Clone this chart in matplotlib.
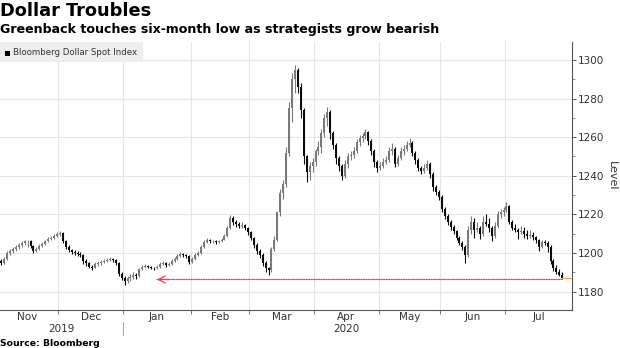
import numpy as np
import pandas as pd
import matplotlib
matplotlib.use("Agg")
import matplotlib.pyplot as plt
from matplotlib import transforms

# ---------------- data (Bloomberg Dollar Spot Index, daily) ----------------
start_date = "2019-11-01"
opens = [1197,1196,1195,1197,1200,1201,1202,1203,1204,1205,1206,1206,1203.5,1201,1202,1203.5,1204.5,1206,1207.5,1208,
         1209,1210,1210.5,1206,1203,1201.5,1200.5,1200,1199.5,1199,1196,1195,1193,1192.5,1194.5,1195,1195.5,1196,1196.5,1197,
         1196.5,1195,1189,1187,1185.5,1187,1187.5,1188.5,1188,1191.5,1193,1193.5,1193,1192.5,1192,1193,1194.5,1195,1194,1194.5,
         1196,1197,1198.5,1199.5,1199,1198.5,1195.5,1197,1199,1200,1203,1205.5,1207,1206,1206,1205.5,1206,1207,1209,1213,
         1218,1216,1215,1214,1214.5,1213,1211,1208,1204,1201,1199,1195,1192,1191,1202,1207,1221,1231,1236,1252,
         1275,1290,1295,1286,1274,1250,1242,1245,1247,1253,1255,1262,1270,1273,1262,1256,1249,1245,1240,1246,
         1250,1251,1253,1257.5,1259.5,1260.5,1262.5,1258,1253,1247,1244,1245,1247,1248,1253,1254,1246,1249,1253,1254,
         1256,1257,1252,1248,1244,1242.5,1244,1246,1241,1234,1231.5,1229,1223,1219,1216,1213.5,1211.5,1208,1205,1203,
         1199,1212,1216,1212,1213,1210,1216,1215,1213,1209,1214,1220,1221,1222.5,1224.5,1216,1213,1212,1211,1211.5,
         1210,1209,1209.5,1208.5,1207,1203,1205.5,1205,1203,1196,1192,1190,1188.5]
highs = [1198,1197,1198,1201,1202,1203,1204,1205,1206,1207,1207,1206.5,1204,1203,1204.5,1205.5,1207,1208.5,1209,1210,
         1211,1211.5,1211,1206.5,1204,1202,1201.5,1201,1200.5,1199.5,1197,1195.5,1194,1195.5,1196,1196.5,1197,1197.5,1198,1197.5,
         1197,1195.5,1190,1188,1188,1189,1190,1189.5,1192.5,1194,1194.5,1194,1193.5,1193,1194,1195.5,1196,1195.5,1195.5,1197,
         1198,1199.5,1200.5,1200,1199.5,1199,1198,1200,1201,1204,1206.5,1208,1207.5,1207,1206.5,1207,1208,1210,1214,1219.5,
         1219,1217,1216,1216,1215,1213.5,1211.5,1208.5,1205,1202,1200,1196,1193,1203,1209,1222,1233,1238,1255,1278,
         1293,1297.5,1296,1288,1275,1251,1247,1249,1254,1258,1264,1272,1275.5,1274,1263,1257,1250,1246,1248,1252,
         1253,1255,1259,1261,1262,1264.5,1263,1259,1254,1248,1247,1249,1250,1255,1257,1255,1251,1255,1256,1258,
         1259.5,1258,1253,1249,1245,1246,1248,1247,1242,1235,1232.5,1230,1224,1220,1217,1214.5,1212,1209,1206,1204,
         1214,1219,1218,1216,1214,1219,1220,1218,1214,1216,1222,1223,1224,1226.5,1225,1217,1215,1213,1214,1213.5,
         1212,1212,1211,1209,1207.5,1206.5,1206.5,1206,1204,1197,1194,1191.5,1190]
lows = [1194.5,1194,1194.5,1196.5,1199,1200,1201,1202,1203,1204,1203,1202.5,1200,1200.5,1201.5,1203,1204,1205.5,1206.5,1207.5,
        1208.5,1209,1205,1202,1200.5,1199.5,1199,1198.5,1198,1194.5,1193.5,1192,1191,1192,1193.5,1194,1195,1195.5,1196,1195.5,
        1194,1188,1186,1183.5,1184.5,1185.5,1186.5,1186.5,1187.5,1191,1192.5,1192,1191.5,1191,1191.5,1192.5,1194,1193,1193.5,1194,
        1195.5,1196.5,1198,1198,1197.5,1194.5,1195,1196.5,1198.5,1199.5,1202.5,1205,1205,1205,1204.5,1205,1205.5,1206.5,1208.5,1212.5,
        1214.5,1213.5,1213,1213,1212,1209.5,1206.5,1202.5,1199.5,1197.5,1193.5,1190,1188.5,1190,1201,1206,1219,1228,1234,1250,
        1268,1283,1283,1270,1246,1237,1238,1242,1245,1251,1252,1260,1266,1259,1254,1246,1242.5,1238,1239,1244,
        1248,1249,1252,1255.5,1257.5,1259,1256,1251,1244.5,1242,1243,1244,1246,1247,1251,1244.5,1245,1248,1251,1253,
        1255,1250,1246,1242.5,1241,1241.5,1243,1239,1232,1230,1227.5,1221,1217.5,1214.5,1212,1210,1206.5,1204,1201.5,1195,
        1198,1210,1208,1211,1207.5,1209,1214,1211,1206,1208,1213,1218,1219,1221,1215,1212,1211,1207.5,1210,1208,
        1207.5,1208,1206.5,1205,1201,1202.5,1204,1200.5,1194.5,1190.5,1189,1188,1186.5]
closes = [1196,1195,1197,1200,1201,1202,1203,1204,1205,1206,1206,1203.5,1201,1202,1203.5,1204.5,1206,1207.5,1208,1209,
          1210,1210.5,1206,1203,1201.5,1200.5,1200,1199.5,1199,1196,1195,1193,1192.5,1194.5,1195,1195.5,1196,1196.5,1197,1196.5,
          1195,1189,1187,1185.5,1187,1187.5,1188.5,1188,1191.5,1193,1193.5,1193,1192.5,1192,1193,1194.5,1195,1194,1194.5,1196,
          1197,1198.5,1199.5,1199,1198.5,1195.5,1197,1199,1200,1203,1205.5,1207,1206,1206,1205.5,1206,1207,1209,1213,1218,
          1216,1215,1214,1214.5,1213,1211,1208,1204,1201,1199,1195,1192,1191,1202,1207,1221,1231,1236,1252,1275,
          1290,1295,1286,1274,1250,1242,1245,1247,1253,1255,1262,1270,1273,1262,1256,1249,1245,1240,1246,1250,
          1251,1253,1257.5,1259.5,1260.5,1262.5,1258,1253,1247,1244,1245,1247,1248,1253,1254,1246,1249,1253,1254,1256,
          1257,1252,1248,1244,1242.5,1244,1246,1241,1234,1231.5,1229,1223,1219,1216,1213.5,1211.5,1208,1205,1203,1199,
          1212,1216,1212,1213,1210,1216,1215,1213,1209,1214,1220,1221,1222.5,1224.5,1216,1213,1212,1211,1211.5,1210,
          1209,1209.5,1208.5,1207,1203,1205.5,1205,1203,1196,1192,1190,1188.5,1187]
arrow_level = 1186.3
arrow_back_to = "2020-01-16"
month_labels = ["Nov", "Dec", "Jan", "Feb", "Mar", "Apr", "May", "Jun", "Jul"]
year_labels = ["2019", "2020"]
y_ticks = [1180, 1200, 1220, 1240, 1260, 1280, 1300]

# ---------------- figure ----------------
W, H = 620, 348
fig = plt.figure(figsize=(W / 100, H / 100), dpi=100)
ax_left, ax_right, ax_top, ax_bot = 0, 572, 42, 310
ax = fig.add_axes([ax_left / W, 1 - ax_bot / H, (ax_right - ax_left) / W, (ax_bot - ax_top) / H])

n = len(closes)
o = np.array(opens); c = np.array(closes); hi = np.array(highs); lo = np.array(lows)
xs = np.arange(n)
up = c >= o
cols = np.where(up, "#7a7a7a", "#0a0a0a")

ax.vlines(xs, lo, hi, colors=cols, lw=0.8, zorder=3)
body_bot = np.minimum(o, c)
body_h = np.maximum(np.abs(c - o), 0.4)
ax.bar(xs, body_h, bottom=body_bot, width=0.68, color=cols, edgecolor="none", zorder=4)

# calendar of business days for the whole axis span
cal = pd.bdate_range(start_date, "2020-07-31")
months = cal.to_period("M")
firsts = [i for i in range(len(cal)) if i == 0 or months[i] != months[i - 1]]
bounds = [f - 0.5 for f in firsts] + [len(cal) - 0.5]

ax.set_xlim(0.6, bounds[-1] - 0.2)
ax.set_ylim(1170.5, 1309.3)

# grid
for b in bounds[1:-1]:
    ax.axvline(b, color="#e6e6e6", lw=0.8, zorder=0)
for yt in y_ticks:
    ax.axhline(yt, color="#e6e6e6", lw=0.8, zorder=0)

# spines
for s in ["top", "left"]:
    ax.spines[s].set_visible(False)
ax.spines["bottom"].set_color("#555555")
ax.spines["right"].set_color("#555555")
ax.spines["bottom"].set_linewidth(0.8)
ax.spines["right"].set_linewidth(0.8)

# y axis on right
ax.yaxis.tick_right()
ax.set_yticks(y_ticks)
ax.set_yticklabels([str(v) for v in y_ticks], fontsize=7.5, color="#333333")
ax.set_yticks(np.arange(1180, 1310, 10), minor=True)
ax.tick_params(axis="y", which="major", length=3, width=0.7, color="#555555", pad=1.5)
ax.tick_params(axis="y", which="minor", length=2, width=0.6, color="#777777")
ax.yaxis.set_label_position("right")
ax.set_ylabel("Level", rotation=270, fontsize=8, color="#333333", labelpad=9)

# x axis: ticks at month boundaries, labels centered
ax.set_xticks(bounds[1:-1])
ax.set_xticklabels([])
ax.tick_params(axis="x", which="major", length=3, width=0.7, color="#777777")
trans = transforms.blended_transform_factory(ax.transData, fig.transFigure)
for k, lab in enumerate(month_labels):
    xm = (bounds[k] + bounds[k + 1]) / 2
    ax.text(xm, 1 - 317 / H, lab, transform=trans, ha="center", va="center", fontsize=7.5, color="#333333")
jan_idx = bounds[2]
ax.text(21.5, 1 - 328.5 / H, year_labels[0], transform=trans, ha="center", va="center", fontsize=7.5, color="#333333")
ax.text(118.5, 1 - 328.5 / H, year_labels[1], transform=trans, ha="center", va="center", fontsize=7.5, color="#333333")
ax.plot([jan_idx, jan_idx], [1 - 322 / H, 1 - 335 / H], transform=trans, color="#aaaaaa", lw=0.8, clip_on=False)

# arrow back to six-month low level
back_x = cal.get_loc(pd.Timestamp(arrow_back_to))
ax.annotate("", xy=(back_x, arrow_level), xytext=(n - 1, arrow_level),
            arrowprops=dict(arrowstyle="-", color="#e8414f", lw=0.9, linestyle=(0, (1, 1)),
                            shrinkA=0, shrinkB=0), zorder=5)
ax.annotate("", xy=(back_x, arrow_level), xytext=(back_x + 4, arrow_level),
            arrowprops=dict(arrowstyle="->,head_length=0.5,head_width=0.25", color="#e8414f", lw=0.9,
                            shrinkA=0, shrinkB=0), zorder=5)
ax.plot([n - 1, bounds[-1]], [closes[-1], closes[-1]], color="#f0a050", lw=0.8, zorder=5)

# legend box
fig.patches.append(plt.Rectangle((0, 1 - 62 / H), 143 / W, 20 / H, transform=fig.transFigure,
                                 facecolor="#eeeeee", edgecolor="none", zorder=10))
fig.patches.append(plt.Rectangle((5 / W, 1 - 55.5 / H), 5 / W, 5 / H, transform=fig.transFigure,
                                 facecolor="#000000", edgecolor="none", zorder=11))
fig.text(13 / W, 1 - 52.5 / H, "Bloomberg Dollar Spot Index", fontsize=6.2, color="#333333",
         va="center", ha="left", zorder=12)

# titles
fig.text(0.0, 1 - 2 / H, "Dollar Troubles", fontsize=12.8, fontweight="bold", va="top", ha="left", color="#000000")
fig.text(0.0, 1 - 23 / H, "Greenback touches six-month low as strategists grow bearish",
         fontsize=9.1, fontweight="bold", va="top", ha="left", color="#000000")
fig.text(0.0, 1 - 343 / H, "Source: Bloomberg", fontsize=6.7, fontweight="bold", va="center", ha="left", color="#000000")

fig.savefig("out.png", dpi=100)
